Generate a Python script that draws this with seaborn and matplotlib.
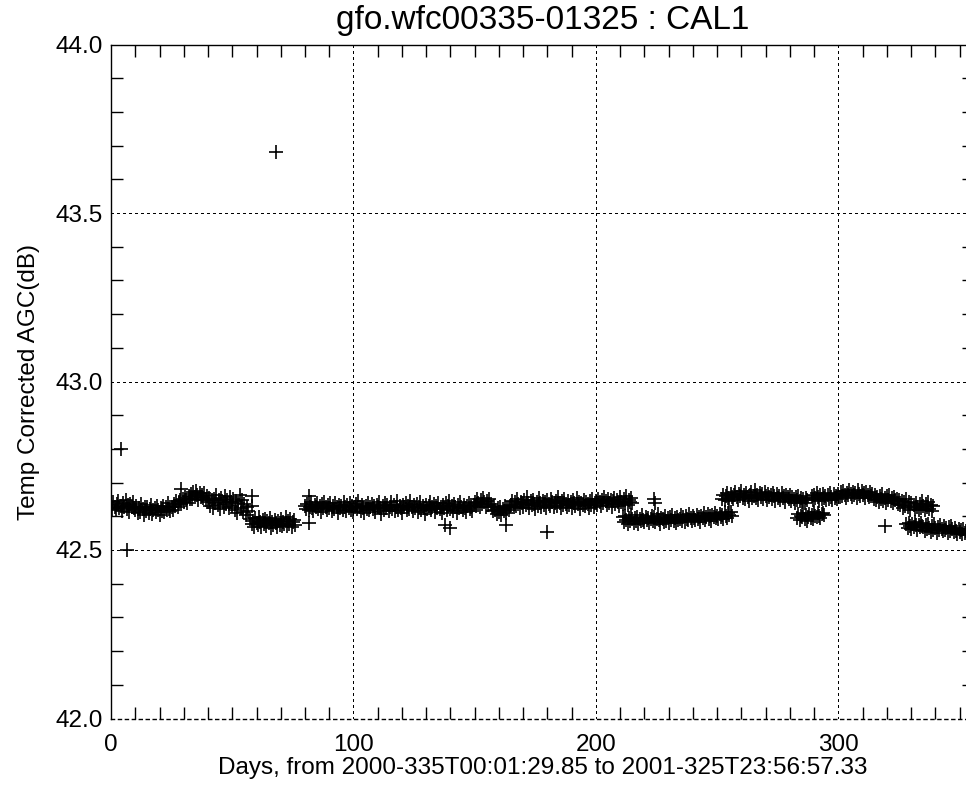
import numpy as np
import pandas as pd
import matplotlib
matplotlib.use("Agg")
import matplotlib.pyplot as plt
from matplotlib.ticker import MultipleLocator, FixedLocator
import seaborn as sns

# ---------------------------------------------------------------
# CAL1 temperature-corrected AGC (dB), sampled every half day.
# Each block: (first day, values); blocks may overlap in time
# where two calibration levels alternate.
# ---------------------------------------------------------------
STEP = 0.5

start_a = 0.0
agc_a = [
    42.634, 42.622, 42.641, 42.628, 42.619, 42.637, 42.645, 42.625, 42.631, 42.616,
    42.639, 42.627, 42.648, 42.621, 42.633, 42.612, 42.636, 42.629, 42.642, 42.624,
    42.618, 42.631, 42.609, 42.625, 42.614, 42.636, 42.621, 42.603, 42.627, 42.616,
    42.629, 42.611, 42.622, 42.634, 42.607, 42.619, 42.626, 42.613, 42.631, 42.620,
    42.605, 42.624, 42.617, 42.632, 42.612, 42.627, 42.619, 42.638, 42.622, 42.615,
    42.629, 42.618, 42.637, 42.631, 42.644, 42.627, 42.641, 42.649, 42.636, 42.652,
    42.643, 42.658, 42.647, 42.639, 42.661, 42.650,
    42.665, 42.652, 42.671, 42.658, 42.676, 42.662, 42.649, 42.668, 42.657, 42.664,
    42.653, 42.670, 42.648, 42.659,
    42.641, 42.655, 42.632, 42.648, 42.626, 42.651, 42.639, 42.662, 42.634, 42.647,
    42.621, 42.653, 42.643, 42.629, 42.659, 42.637, 42.648, 42.624, 42.656, 42.641,
    42.632, 42.651, 42.618, 42.644, 42.609, 42.638, 42.662, 42.625, 42.647, 42.613,
    42.636, 42.603, 42.629, 42.617,
]

start_b = 57.5
agc_b = [
    42.591, 42.578, 42.586, 42.569, 42.594, 42.581, 42.573, 42.598, 42.584, 42.567,
    42.589, 42.576, 42.592, 42.571, 42.585, 42.579, 42.596, 42.566, 42.583, 42.574,
    42.590, 42.580, 42.569, 42.587, 42.575, 42.593, 42.572, 42.584, 42.578, 42.599,
    42.570, 42.586, 42.576, 42.591, 42.568, 42.582, 42.588, 42.575,
]

start_c = 80.0
agc_c = [
    42.631, 42.622, 42.637, 42.619, 42.628, 42.641, 42.625, 42.616, 42.634, 42.627,
    42.639, 42.621, 42.630, 42.612, 42.636, 42.624, 42.643, 42.629, 42.618, 42.633,
    42.626, 42.640, 42.615, 42.631, 42.622, 42.638, 42.627, 42.609, 42.635, 42.624,
    42.630, 42.619, 42.642, 42.628, 42.616, 42.633, 42.625, 42.639, 42.620, 42.631,
    42.613, 42.627, 42.636, 42.622, 42.645, 42.629, 42.617, 42.634, 42.626, 42.611,
    42.632, 42.623, 42.640, 42.618, 42.628, 42.637, 42.621, 42.630, 42.614, 42.635,
    42.627, 42.643, 42.624, 42.608, 42.631, 42.619, 42.638, 42.626, 42.633, 42.615,
    42.629, 42.641, 42.622, 42.635, 42.617, 42.628, 42.644, 42.620, 42.632, 42.625,
    42.610, 42.634, 42.627, 42.639, 42.618, 42.630, 42.623, 42.646, 42.628, 42.616,
    42.633, 42.624, 42.637, 42.612, 42.629, 42.641, 42.620, 42.631, 42.626, 42.607,
    42.635, 42.622, 42.630, 42.643, 42.618, 42.627, 42.636, 42.614, 42.632, 42.625,
    42.640, 42.621, 42.629, 42.611, 42.634, 42.626, 42.638, 42.619, 42.631, 42.645,
    42.623, 42.630, 42.616, 42.637, 42.627, 42.609, 42.633, 42.624, 42.642, 42.628,
    42.619, 42.635, 42.626, 42.613, 42.632, 42.640, 42.621, 42.629, 42.617, 42.634,
    42.643, 42.632, 42.651, 42.638, 42.627, 42.647, 42.636, 42.655, 42.641, 42.629,
    42.646, 42.634, 42.652, 42.637,
    42.628, 42.615, 42.631, 42.619, 42.607, 42.624, 42.613, 42.629, 42.604, 42.621,
    42.616, 42.632, 42.611, 42.625, 42.618, 42.630,
    42.634, 42.645, 42.627, 42.641, 42.632, 42.650, 42.636, 42.624, 42.643, 42.638,
    42.629, 42.647, 42.635, 42.656, 42.640, 42.626, 42.644, 42.633, 42.649, 42.637,
    42.621, 42.642, 42.631, 42.653, 42.639, 42.628, 42.646, 42.634, 42.641, 42.625,
    42.648, 42.636, 42.630, 42.652, 42.643, 42.627, 42.639, 42.645, 42.632, 42.657,
    42.638, 42.624, 42.644, 42.633, 42.650, 42.637, 42.629, 42.646, 42.635, 42.641,
    42.626, 42.648, 42.639, 42.631, 42.654, 42.636, 42.643, 42.622, 42.640, 42.634,
    42.647, 42.630, 42.642, 42.637, 42.625, 42.645, 42.633, 42.651, 42.628, 42.639,
    42.646, 42.635, 42.652, 42.641, 42.630, 42.649, 42.638, 42.657, 42.644, 42.633,
    42.651, 42.639, 42.647, 42.628, 42.645, 42.654, 42.637, 42.648, 42.642, 42.631,
    42.656, 42.643, 42.636, 42.650, 42.640, 42.659, 42.634, 42.647, 42.641, 42.653,
    42.638,
]

start_d = 211.0
agc_d = [
    42.597, 42.584, 42.601, 42.589, 42.578, 42.594, 42.586, 42.603, 42.591, 42.580,
    42.596, 42.587, 42.599, 42.576, 42.592, 42.585, 42.604, 42.590, 42.582, 42.598,
    42.588, 42.595, 42.579, 42.593, 42.601, 42.586, 42.597, 42.583, 42.591, 42.606,
    42.589, 42.577, 42.596, 42.592, 42.584, 42.600, 42.587, 42.594, 42.581, 42.598,
    42.590, 42.603, 42.585, 42.595, 42.579, 42.599, 42.588, 42.593, 42.605, 42.586,
    42.597, 42.583, 42.601, 42.592, 42.589, 42.607, 42.594, 42.585, 42.600, 42.596,
    42.588, 42.604, 42.591, 42.599, 42.584, 42.602, 42.595, 42.609, 42.590, 42.598,
    42.606, 42.593, 42.601, 42.587, 42.603, 42.597, 42.611, 42.594, 42.600, 42.592,
    42.608, 42.599, 42.605, 42.591, 42.612, 42.602, 42.596, 42.609, 42.603, 42.614,
    42.601,
]

start_e = 252.0
agc_e = [
    42.652, 42.664, 42.649, 42.661, 42.670, 42.655, 42.646, 42.667, 42.658, 42.651,
    42.663, 42.672, 42.656, 42.648, 42.666, 42.659, 42.675, 42.653, 42.662, 42.650,
    42.668, 42.657, 42.645, 42.664, 42.671, 42.654, 42.660, 42.678, 42.655, 42.663,
    42.649, 42.669, 42.658, 42.665, 42.652, 42.673, 42.660, 42.647, 42.667, 42.656,
    42.662, 42.651, 42.670, 42.659, 42.644, 42.666, 42.655, 42.661, 42.648, 42.668,
    42.653, 42.660, 42.642, 42.664, 42.656, 42.650, 42.663, 42.645, 42.658, 42.652,
    42.640, 42.657, 42.649, 42.661, 42.646, 42.655, 42.643, 42.651, 42.638, 42.654,
    42.647,
]

start_f = 283.0
agc_f = [
    42.594, 42.606, 42.589, 42.601, 42.597, 42.610, 42.592, 42.603, 42.586, 42.599,
    42.608, 42.595, 42.604, 42.591, 42.612, 42.600, 42.597, 42.609, 42.602, 42.594,
    42.606, 42.611, 42.603,
]

start_g = 289.0
agc_g = [
    42.660, 42.648, 42.664, 42.653, 42.668, 42.657, 42.645, 42.662, 42.651, 42.666,
    42.655, 42.659, 42.647, 42.663, 42.652, 42.670, 42.658, 42.649, 42.665, 42.654,
    42.661, 42.650,
    42.667, 42.656, 42.672, 42.661, 42.676, 42.664, 42.653, 42.670, 42.662, 42.679,
    42.666, 42.657, 42.673, 42.663, 42.669, 42.655, 42.677, 42.665, 42.660, 42.674,
    42.662, 42.668, 42.654, 42.671, 42.663, 42.658, 42.672, 42.661, 42.666, 42.652,
    42.664, 42.649, 42.658, 42.643, 42.661, 42.652, 42.667, 42.646, 42.655, 42.640,
    42.659, 42.648, 42.662, 42.644, 42.653, 42.638, 42.657, 42.647, 42.651, 42.636,
    42.648, 42.634, 42.645, 42.625, 42.641, 42.632, 42.651, 42.629, 42.643, 42.620,
    42.638,
]

start_h = 328.0
agc_h = [
    42.576, 42.565, 42.581, 42.570, 42.562, 42.578, 42.568, 42.584, 42.573, 42.560,
    42.575, 42.567, 42.580, 42.571,
]

start_i = 331.0
agc_i = [
    42.634, 42.621, 42.640, 42.627, 42.618, 42.637, 42.625, 42.644, 42.631, 42.619,
    42.636, 42.628, 42.641, 42.623, 42.633, 42.615, 42.630,
]

start_j = 335.0
agc_j = [
    42.569, 42.557, 42.574, 42.562, 42.578, 42.566, 42.553, 42.571, 42.560, 42.576,
    42.564, 42.551, 42.568, 42.559, 42.573, 42.562, 42.556, 42.570, 42.558, 42.565,
    42.549, 42.567, 42.555, 42.571, 42.561, 42.552, 42.566, 42.557, 42.546, 42.563,
    42.554, 42.560, 42.548, 42.562, 42.551, 42.557, 42.545,
]

# isolated samples away from the main band
spike_day = [4.0, 6.5, 29.0, 58.0, 58.0, 68.0, 81.5, 81.5, 137.7, 140.0,
             163.0, 180.0, 224.0, 224.5, 319.0]
spike_agc = [42.80, 42.50, 42.68, 42.66, 42.63, 43.68, 42.66, 42.58, 42.574, 42.566,
             42.575, 42.553, 42.652, 42.640, 42.570]

blocks = [
    (start_a, agc_a), (start_b, agc_b), (start_c, agc_c), (start_d, agc_d),
    (start_e, agc_e), (start_f, agc_f), (start_g, agc_g), (start_h, agc_h),
    (start_i, agc_i), (start_j, agc_j),
]

frames = []
for start, vals in blocks:
    days = start + STEP * np.arange(len(vals))
    frames.append(pd.DataFrame({"day": days, "agc": vals}))
frames.append(pd.DataFrame({"day": spike_day, "agc": spike_agc}))
df = pd.concat(frames, ignore_index=True)

title = "gfo.wfc00335-01325 : CAL1"
xlabel = "Days, from 2000-335T00:01:29.85 to 2001-325T23:56:57.33"
ylabel = "Temp Corrected AGC(dB)"
x_major = [0, 100, 200, 300]
y_major = [42.0, 42.5, 43.0, 43.5, 44.0]

# ---------------------------------------------------------------
sns.set_theme(style="white")
plt.rcParams["font.family"] = ["Liberation Sans", "DejaVu Sans"]

W, H = 966, 786
fig = plt.figure(figsize=(W / 100, H / 100), dpi=100)
fig.patch.set_facecolor("white")
left_px, right_px, top_px, bottom_px = 111, 974.3, 44.5, 718.5
ax = fig.add_axes([left_px / W, (H - bottom_px) / H,
                   (right_px - left_px) / W, (bottom_px - top_px) / H])
ax.set_facecolor("white")

sns.scatterplot(data=df, x="day", y="agc", marker="+", s=105, color="black",
                linewidth=1.2, ax=ax, legend=False, zorder=3)
for coll in ax.collections:
    coll.set_antialiased(False)

ax.set_xlim(0, 356)
ax.set_ylim(42.0, 44.0)

dots = (0, (2.2, 2.8))
for xv in x_major[1:]:
    ax.axvline(xv, color="black", lw=0.8, ls=dots, zorder=1, antialiased=False)
for yv in y_major[1:-1]:
    ax.axhline(yv, color="black", lw=0.8, ls=dots, zorder=1, antialiased=False)

for side in ["left", "top", "right", "bottom"]:
    ax.spines[side].set_color("black")
    ax.spines[side].set_linewidth(1.0)
ax.spines["bottom"].set_linestyle(dots)

ax.xaxis.set_major_locator(FixedLocator(x_major))
ax.xaxis.set_minor_locator(MultipleLocator(10))
ax.yaxis.set_major_locator(FixedLocator(y_major))
ax.yaxis.set_minor_locator(MultipleLocator(0.1))
ax.set_xticklabels([str(v) for v in x_major])
ax.set_yticklabels([f"{v:.1f}" for v in y_major])

ax.tick_params(axis="both", which="major", direction="in", length=0,
               labelsize=17.5, colors="black")
ax.tick_params(axis="x", which="major", pad=11)
ax.tick_params(axis="y", which="major", pad=6)
ax.tick_params(axis="both", which="minor", direction="in", length=8.6,
               width=1.0, color="black", top=True, bottom=True,
               left=True, right=True)

ax.set_title(title, fontsize=24, pad=11, color="black")
ax.set_xlabel(xlabel, fontsize=17.5, labelpad=1, color="black")
ax.set_ylabel(ylabel, fontsize=17.5, labelpad=11, color="black")

fig.savefig("out.png", dpi=100, facecolor="white")
